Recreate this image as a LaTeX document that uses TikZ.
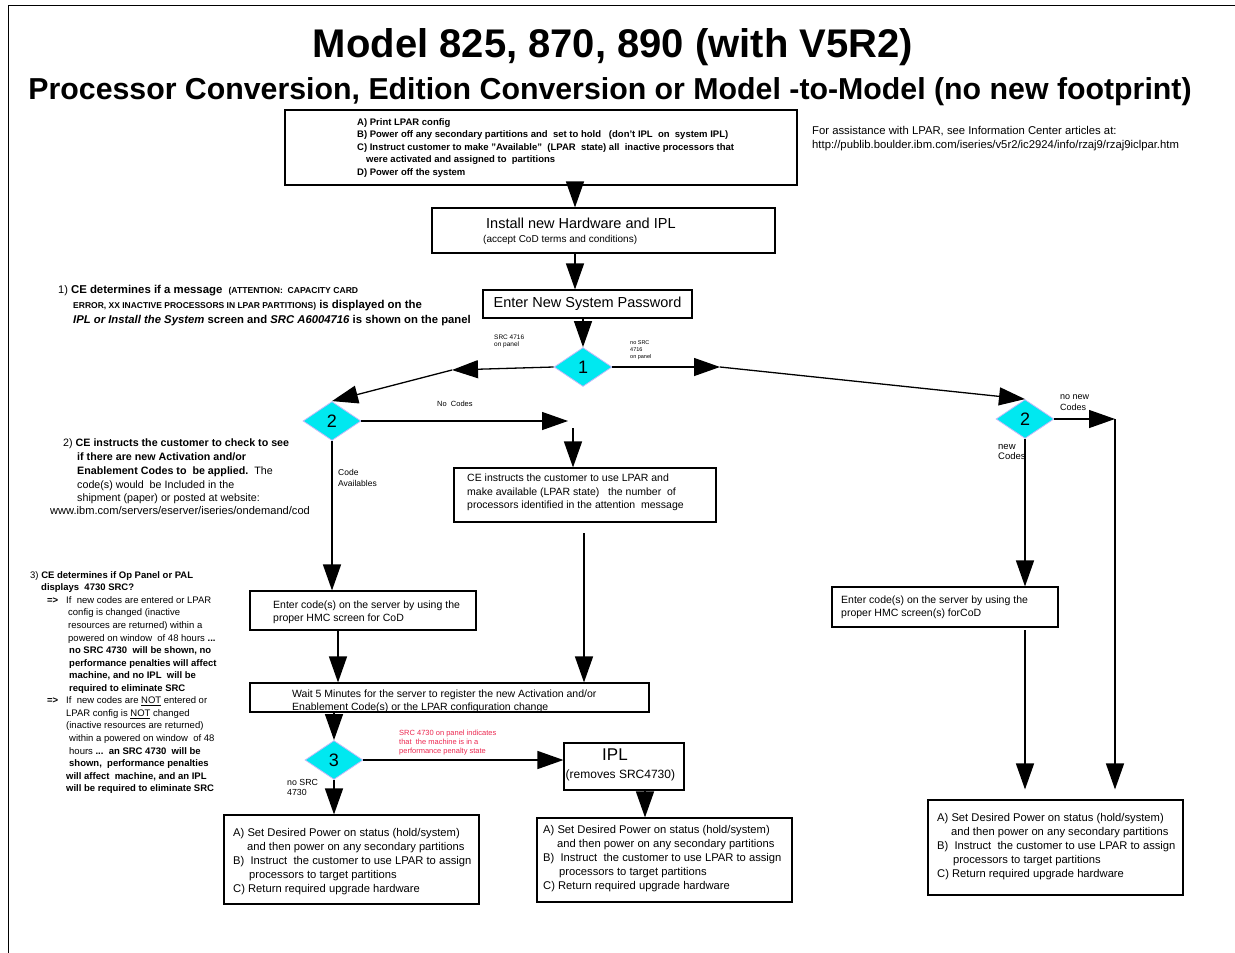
\documentclass[tikz,border=0pt]{standalone}
\usepackage{fontspec}
\setmainfont{Liberation Sans}
\usetikzlibrary{arrows.meta,shapes.geometric,calc}
\definecolor{dcyan}{RGB}{0,232,240}
\definecolor{dborder}{RGB}{200,185,250}
\definecolor{redtxt}{RGB}{235,40,80}
\newcommand\fs[2]{\fontsize{#1}{#2}\selectfont}
\newcommand\powtext{A) Set Desired Power on status (hold/system)\\\hspace*{14pt}and then power on any secondary partitions\\B)\ \ Instruct\ \ the customer to use LPAR to assign\\\hspace*{16pt}processors to target partitions\\C) Return required upgrade hardware}
\begin{document}
\begin{tikzpicture}[x=1pt,y=-1pt,
 box/.style={draw, line width=1.1pt, rectangle, inner sep=0},
 dia/.style={diamond, draw=dborder, line width=0.8pt, fill=dcyan, inner sep=0, minimum width=58pt, minimum height=39pt, font=\fs{18}{20}},
 arr/.style={line width=1.3pt, -{Triangle[length=26pt,width=18pt]}},
 tl/.style={anchor=base west, inner sep=0},
 tb/.style={anchor=north west, inner sep=0, align=left},
]
\useasboundingbox (0,0) rectangle (1235,953);
\draw[line width=1pt] (8,953) -- (8,5) -- (1235,5);

% titles
\node[anchor=base, inner sep=0, font=\bfseries\fs{40}{44}] (t1) at (613,57) {Model 825, 870, 890 (with V5R2)};
\node[anchor=base, inner sep=0, font=\bfseries\fs{30.3}{34}] (t2) at (610,99) {Processor Conversion, Edition Conversion or Model -to-Model (no new footprint)};

% boxes
\node[box, minimum width=512pt, minimum height=75pt] (prep) at (541,147.5) {};
\node[box, minimum width=343pt, minimum height=45pt] (install) at (603.5,230.5) {};
\node[box, minimum width=209pt, minimum height=28pt, font=\fs{14.5}{16}] (pwd) at (587.5,304) {Enter New System Password};
\node[box, minimum width=262pt, minimum height=54pt] (ce) at (585,495) {};
\node[box, minimum width=226pt, minimum height=39pt] (enterL) at (363,610.5) {};
\node[box, minimum width=399pt, minimum height=29pt] (wait) at (449.5,697.5) {};
\node[box, minimum width=120pt, minimum height=47pt] (ipl) at (624,766.5) {};
\node[box, minimum width=255pt, minimum height=89pt] (botL) at (351.5,859.5) {};
\node[box, minimum width=255pt, minimum height=84pt] (botM) at (664.5,860) {};
\node[box, minimum width=226pt, minimum height=40pt] (enterR) at (945,607) {};
\node[box, minimum width=255pt, minimum height=95pt] (botR) at (1055.5,847.5) {};

% diamonds
\node[dia] (d1) at (583,367) {1};
\node[dia] (d2a) at (332,421) {2};
\node[dia] (d2b) at (1025,419) {2};
\node[dia] (d3) at (334,760) {3};

% coordinates
\coordinate (x575) at (575,0);
\coordinate (x338) at (338,0);
\coordinate (x645) at (645,0);
\coordinate (c1) at (452,370);
\coordinate (c2) at (720,367);
\coordinate (c3) at (568,421);
\coordinate (c4) at (573,428);
\coordinate (c5) at (584,533);
\coordinate (c6) at (1115,419);
\coordinate (c7) at (1025,630);

% connectors
\draw[arr] (prep.south -| x575) -- (install.north -| x575);
\draw[arr] (install.south -| x575) -- (pwd.north -| x575);
\draw[arr] (pwd.south -| d1.north) -- (d1.north);
\draw[arr] (d1.west) -- (c1);
\draw[arr] (c1) -- (d2a.north);
\draw[arr] (d1.east) -- (c2);
\draw[arr] (c2) -- (d2b.north);
\draw[arr] (d2a.east) -- (c3);
\draw[arr] (c4) -- (ce.north -| c4);
\draw[arr] (d2a.south) -- (enterL.north -| d2a.south);
\draw[arr] (c5) -- (wait.north -| c5);
\draw[arr] (enterL.south -| x338) -- (wait.north -| x338);
\draw[arr] (wait.south -| d3.north) -- (d3.north);
\draw[arr] (d3.east) -- (ipl.west |- d3.east);
\draw[arr] (d3.south) -- (botL.north -| d3.south);
\draw[arr] (ipl.south -| x645) -- (botM.north -| x645);
\draw[arr] (d2b.east) -- (c6);
\draw[arr] (c6) -- ($(botR.north -| c6)+(0,-10)$);
\draw[arr] (d2b.south) -- (enterR.north -| d2b.south);
\draw[arr] (c7) -- ($(botR.north -| c7)+(0,-10)$);

% box texts
\node[tb, font=\bfseries\fs{9.5}{12.6}] (prept) at (357,118) {A) Print LPAR config\\B) Power off any secondary partitions and\ \ set to hold\ \ \ (don't IPL\ \ on\ \ system IPL)\\C) Instruct customer to make "Available"\ \ (LPAR\ \ state) all\ \ inactive processors that\\\hspace*{9pt}were activated and assigned to\ \ partitions\\D) Power off the system};
\node[tl, font=\fs{14.5}{16}] (inst1) at (486,228) {Install new Hardware and IPL};
\node[tl, font=\fs{10}{12}] (inst2) at (483,242) {(accept CoD terms and conditions)};
\node[tb, font=\fs{10.5}{13.5}] (cet) at (467,474) {CE instructs the customer to use LPAR and\\make available (LPAR state)\ \ \ the number\ \ of\\processors identified in the attention\ \ message};
\node[tb, font=\fs{10.5}{13}] (entLt) at (273,601) {Enter code(s) on the server by using the\\proper HMC screen for CoD};
\node[tb, font=\fs{10.5}{12.8}] (waitt) at (292,689.5) {Wait 5 Minutes for the server to register the new Activation and/or\\Enablement Code(s) or the LPAR configuration change};
\node[tb, font=\fs{10.5}{12.8}] (entRt) at (841,596) {Enter code(s) on the server by using the\\proper HMC screen(s) forCoD};
\node[tl, font=\fs{17}{19}] (iplt1) at (602,760) {IPL};
\node[tl, font=\fs{12}{14}] (iplt2) at (565.5,778) {(removes SRC4730)};
\node[tb, font=\fs{11.2}{14.1}] (botLt) at (233,828) {\powtext};
\node[tb, font=\fs{11.2}{14.1}] (botMt) at (543,825) {\powtext};
\node[tb, font=\fs{11.2}{14.1}] (botRt) at (937,813) {\powtext};

% right top note
\node[tl, font=\fs{11.3}{14}] (note1) at (812,134) {For assistance with LPAR, see Information Center articles at:};
\node[tl, font=\fs{11.3}{14}] (note2) at (812,148) {http://publib.boulder.ibm.com/iseries/v5r2/ic2924/info/rzaj9/rzaj9iclpar.htm};

% connector labels
\node[tl, font=\fs{6.5}{7.5}] (l1a) at (494,339) {SRC 4716};
\node[tl, font=\fs{6.5}{7.5}] (l1b) at (494,346.5) {on panel};
\node[tl, font=\fs{5.5}{7}] (l2a) at (630,344) {no SRC};
\node[tl, font=\fs{5.5}{7}] (l2b) at (630,351) {4716};
\node[tl, font=\fs{5.5}{7}] (l2c) at (630,358.5) {on panel};
\node[tl, font=\fs{7.5}{9}] (l3) at (437,406) {No\ \ Codes};
\node[tl, font=\fs{8.5}{10}] (l4a) at (338,475) {Code};
\node[tl, font=\fs{8.5}{10}] (l4b) at (338,486) {Availables};
\node[tl, font=\fs{9}{10}] (l5a) at (1060,399) {no new};
\node[tl, font=\fs{9}{10}] (l5b) at (1060,410) {Codes};
\node[tl, font=\fs{9.5}{10}] (l6a) at (998,449) {new};
\node[tl, font=\fs{9.5}{10}] (l6b) at (998,459.5) {Codes};
\node[tl, font=\fs{8.8}{10}] (l7a) at (287,785) {no SRC};
\node[tl, font=\fs{8.8}{10}] (l7b) at (287,795) {4730};
\node[tl, font=\fs{7.5}{9}, text=redtxt] (r1) at (399,735) {SRC 4730 on panel indicates};
\node[tl, font=\fs{7.5}{9}, text=redtxt] (r2) at (399,744) {that\ \ the machine is in a};
\node[tl, font=\fs{7.5}{9}, text=redtxt] (r3) at (399,753) {performance penalty state};

% note 1
\node[tl, font=\fs{11}{12}] (n1a) at (58,293) {1) {\bfseries\fs{11.4}{12}CE determines if a message}\ \ {\bfseries\fs{8.6}{9}(ATTENTION:\ \ CAPACITY CARD}};
\node[tl, font=\bfseries\fs{11.4}{12}] (n1b) at (73,308) {{\fs{8.5}{9}ERROR, XX INACTIVE PROCESSORS IN LPAR PARTITIONS)}\ is displayed on the};
\node[tl, font=\bfseries\fs{11.3}{12}] (n1c) at (73,323) {\textit{IPL or Install the System} screen and \textit{SRC A6004716} is shown on the panel};

% note 2
\node[tl, font=\fs{10.7}{13}] (n2a) at (63,446) {2) \textbf{CE instructs the customer to check to see}};
\node[tl, font=\bfseries\fs{10.7}{13}] (n2b) at (77,460) {if there are new Activation and/or};
\node[tl, font=\fs{10.7}{13}] (n2c) at (77,474) {\textbf{Enablement Codes to\ \ be applied.}\ \ The};
\node[tl, font=\fs{10.7}{13}] (n2d) at (77,488) {code(s) would\ \ be Included in the};
\node[tl, font=\fs{10.7}{13}] (n2e) at (77,501) {shipment (paper) or posted at website:};
\node[tl, font=\fs{11.1}{13}] (n2f) at (50,514) {www.ibm.com/servers/eserver/iseries/ondemand/cod};

% note 3
\begin{scope}[every node/.style={tl, font=\fs{9.5}{12}}]
\node (n3a) at (30,578) {3) \textbf{CE determines if Op Panel or PAL}};
\node (n3b) at (41,590.5) {\textbf{displays\ \ 4730 SRC?}};
\node (n3c) at (47,603.3) {\textbf{=>}};
\node (n3d) at (66,603.3) {If\ \ new codes are entered or LPAR};
\node (n3e) at (68,615.8) {config is changed (inactive};
\node (n3f) at (68,628.4) {resources are returned) within a};
\node (n3g) at (68,641) {powered on window\ \ of 48 hours \textbf{...}};
\node (n3h) at (69,653.5) {\textbf{no SRC 4730\ \ will be shown, no}};
\node (n3i) at (69,666.1) {\textbf{performance penalties will affect}};
\node (n3j) at (69,678.6) {\textbf{machine, and no IPL\ \ will be}};
\node (n3k) at (69,691.2) {\textbf{required to eliminate SRC}};
\node (n3l) at (47,703.8) {\textbf{=>}};
\node (n3m) at (66,703.8) {If\ \ new codes are \underline{NOT} entered or};
\node (n3n) at (66,716.3) {LPAR config is \underline{NOT} changed};
\node (n3o) at (66,728.9) {(inactive resources are returned)};
\node (n3p) at (69,741.4) {within a powered on window\ \ of 48};
\node (n3q) at (69,754) {hours \textbf{...\ \ an SRC 4730\ \ will be}};
\node (n3r) at (69,766.6) {\textbf{shown,\ \ performance penalties}};
\node (n3s) at (66,779.1) {\textbf{will affect\ \ machine, and an IPL}};
\node (n3t) at (66,791.7) {\textbf{will be required to eliminate SRC}};
\end{scope}
\end{tikzpicture}
\end{document}
